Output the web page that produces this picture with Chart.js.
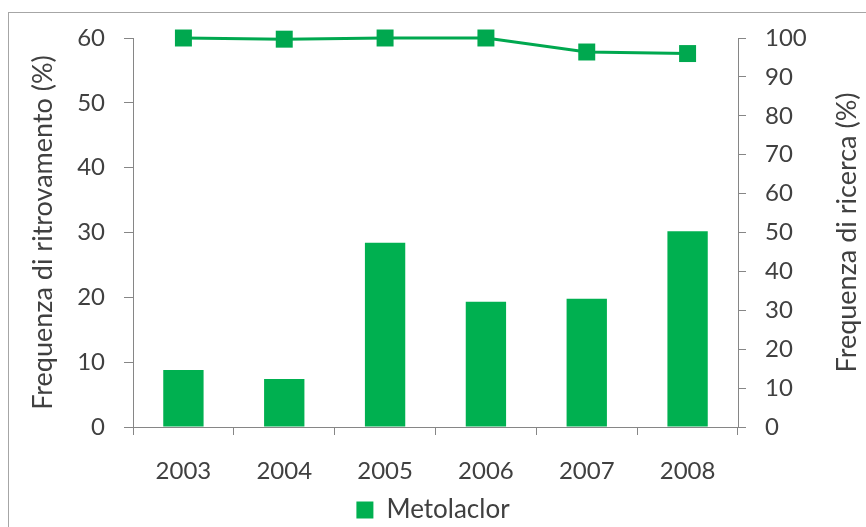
<!DOCTYPE html>
<html lang="it">
<head>
    <meta charset="UTF-8">
    <title>Metolaclor</title>
    <script src="https://cdn.jsdelivr.net/npm/chart.js"></script>
    <style>
        body {
            margin: 0;
            padding: 0;
            width: 866px;
            height: 527px;
            overflow: hidden;
            background: #fff;
            position: relative;
        }
        #frame {
            position: absolute;
            left: 8px;
            top: 12px;
            width: 900px;
            height: 600px;
            border: 1px solid #a6a6a6;
            box-sizing: border-box;
        }
        #chart {
            position: absolute;
            left: 0;
            top: 0;
        }
    </style>
</head>
<body>
    <div id="frame"></div>
    <canvas id="chart" width="866" height="533"></canvas>

    <script>
        const years = ['2003', '2004', '2005', '2006', '2007', '2008'];
        // frequenza di ritrovamento (%) - asse sinistro
        const ritrovamento = [8.8, 7.4, 28.4, 19.3, 19.8, 30.2];
        // frequenza di ricerca (%) - asse destro
        const ricerca = [100, 99.7, 100, 100, 96.4, 96];

        const green = '#00b050';
        const lineGreen = '#00a84f';
        const axisGray = '#868686';
        const textColor = '#404040';
        const fontFamily = 'Lato, "Open Sans", sans-serif';

        Chart.defaults.font.family = fontFamily;
        Chart.defaults.color = textColor;

        // titolo dell'asse destro, ruotato come quello sinistro (dal basso verso l'alto)
        const rightTitle = {
            id: 'rightTitle',
            afterDraw(chart) {
                const s = chart.scales.y1;
                const ctx = chart.ctx;
                ctx.save();
                ctx.translate(847, (s.top + s.bottom) / 2);
                ctx.rotate(-Math.PI / 2);
                ctx.font = '27px ' + fontFamily;
                ctx.fillStyle = textColor;
                ctx.textAlign = 'center';
                ctx.textBaseline = 'middle';
                ctx.fillText('Frequenza di ricerca (%)', 0, 0);
                ctx.restore();
            }
        };

        const chart = new Chart(document.getElementById('chart').getContext('2d'), {
            type: 'bar',
            data: {
                labels: years,
                datasets: [{
                    type: 'line',
                    label: 'Ricerca',
                    data: ricerca,
                    yAxisID: 'y1',
                    borderColor: lineGreen,
                    backgroundColor: lineGreen,
                    borderWidth: 3,
                    pointStyle: 'rect',
                    pointRadius: 12,
                    pointBorderWidth: 0,
                    pointBackgroundColor: lineGreen,
                    tension: 0,
                    clip: false,
                    order: 0
                }, {
                    label: 'Metolaclor',
                    data: ritrovamento,
                    yAxisID: 'y',
                    backgroundColor: green,
                    categoryPercentage: 1,
                    barPercentage: 0.4,
                    order: 1
                }]
            },
            options: {
                responsive: false,
                animation: false,
                devicePixelRatio: 1,
                layout: { padding: { top: 38, left: 0, right: 0, bottom: 0 } },
                plugins: {
                    tooltip: { enabled: false },
                    legend: {
                        position: 'bottom',
                        labels: {
                            filter: item => item.text === 'Metolaclor',
                            boxWidth: 17,
                            boxHeight: 17,
                            padding: 6,
                            font: { size: 26 }
                        }
                    }
                },
                scales: {
                    x: {
                        afterFit: s => { s.height = 64; },
                        grid: { drawOnChartArea: false, tickLength: 8, color: axisGray, offset: true },
                        border: { color: axisGray },
                        ticks: { font: { size: 24 }, padding: 22 }
                    },
                    y: {
                        position: 'left',
                        min: 0,
                        max: 60,
                        afterFit: s => { s.width = 133; },
                        grid: { drawOnChartArea: false, tickLength: 9, color: axisGray },
                        border: { color: axisGray },
                        ticks: { stepSize: 10, font: { size: 24 }, padding: 19 },
                        title: {
                            display: true,
                            text: 'Frequenza di ritrovamento (%)',
                            font: { size: 27 },
                            padding: { top: 27, bottom: 0 }
                        }
                    },
                    y1: {
                        position: 'right',
                        min: 0,
                        max: 100,
                        afterFit: s => { s.width = 128; },
                        grid: { drawOnChartArea: false, tickLength: 8, color: axisGray },
                        border: { color: axisGray },
                        ticks: { stepSize: 10, font: { size: 24 }, padding: 19 }
                    }
                }
            },
            plugins: [rightTitle]
        });
    </script>
</body>
</html>
